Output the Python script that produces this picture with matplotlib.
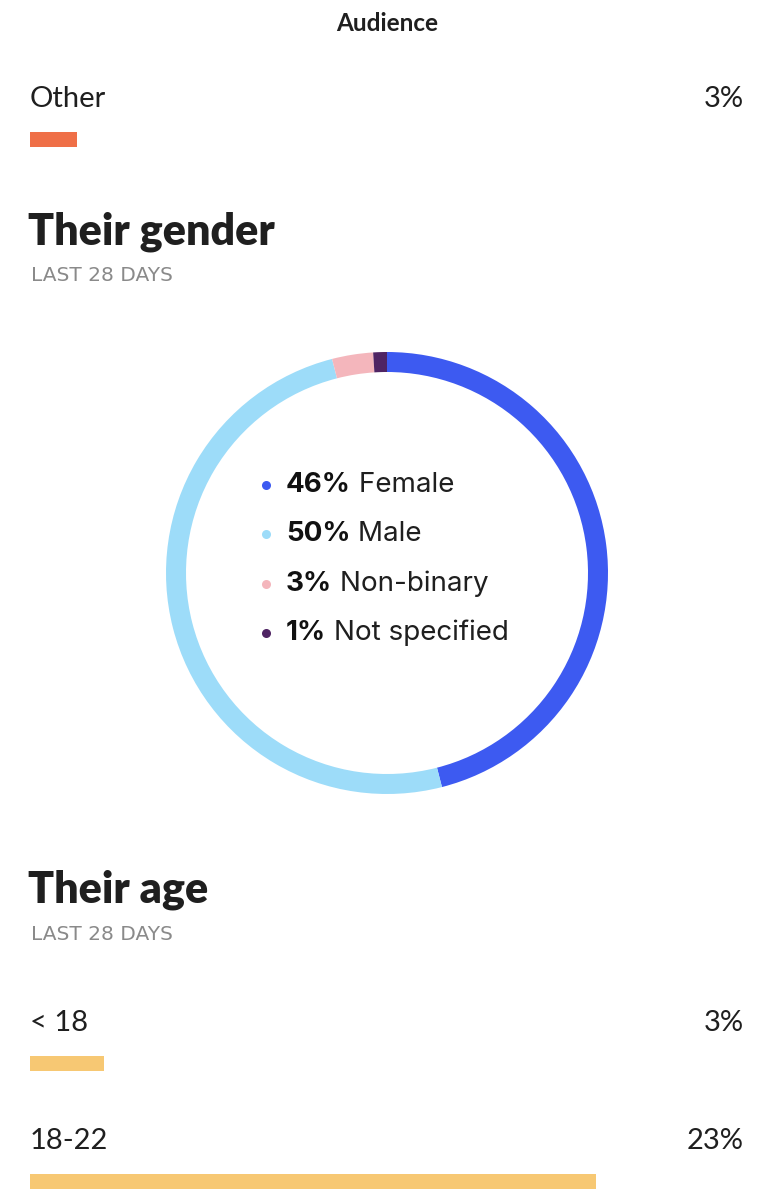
import matplotlib
matplotlib.use("Agg")
import matplotlib.pyplot as plt

plt.rcParams['font.family'] = ['Lato', 'DejaVu Sans']

# location section (only the last row is visible)
location_labels = ["Other"]
location_values = [3]
location_max = 45.5

# gender
gender_labels = ["Female", "Male", "Non-binary", "Not specified"]
gender_values = [46, 50, 3, 1]
gender_colors = ["#3d5af1", "#9ddcf9", "#f4b6bc", "#4f2463"]

# age (first two groups visible)
age_labels = ["< 18", "18-22"]
age_values = [3, 23]
age_max = 29

W, H = 774, 1200
fig = plt.figure(figsize=(W / 100, H / 100), dpi=100)
fig.patch.set_facecolor("white")

ax = fig.add_axes([0, 0, 1, 1])
ax.set_xlim(0, W)
ax.set_ylim(H, 0)
ax.axis("off")

DARK = "#1f1f1f"
GREY = "#8a8a8a"


def px_axes(left, top, right, bottom):
    return fig.add_axes([left / W, 1 - bottom / H, (right - left) / W, (bottom - top) / H])


def bar_rows(labels, values, vmax, color, first_base, step, bar_top):
    # bar axes spans full content width; rows are step px apart
    n = len(labels)
    top = bar_top + 7.5 - step / 2
    bax = px_axes(30, top, 744, top + step * n)
    bax.set_xlim(0, vmax)
    bax.set_ylim(n - 0.5, -0.5)
    bax.barh(range(n), values, height=15 / step, color=color, left=0)
    bax.axis("off")
    for i, (lab, val) in enumerate(zip(labels, values)):
        y = first_base + i * step
        ax.text(30, y, lab, fontsize=21, color=DARK, va="baseline", ha="left")
        ax.text(744, y, f"{val}%", fontsize=21, color=DARK, va="baseline", ha="right")


def subtitle(y):
    ax.text(31, y, "LAST 28 DAYS", fontsize=14.5, color=GREY, va="baseline", ha="left",
            family=["DejaVu Sans"])


ax.text(387, 31, "Audience", fontsize=17.5, fontweight="bold", color=DARK,
        ha="center", va="baseline")

bar_rows(location_labels, location_values, location_max, "#ef6f47", 107, 118, 132)

# gender section
ax.text(28, 245, "Their gender", fontsize=31, fontweight="heavy", color=DARK,
        va="baseline", ha="left")
subtitle(281)

cx, cy, r = 387, 573, 221
pax = px_axes(cx - r, cy - r, cx + r, cy + r)
pax.pie(gender_values, colors=gender_colors, startangle=90, counterclock=False,
        radius=1, wedgeprops=dict(width=20 / r, linewidth=0))
pax.set_xlim(-1, 1)
pax.set_ylim(-1, 1)
pax.set_aspect("equal")

for i, (lab, val, col) in enumerate(zip(gender_labels, gender_values, gender_colors)):
    base = 492 + i * 49.3
    ax.plot(266, base - 7, "o", ms=6.5, color=col, mec="none")
    t = ax.text(286, base, f"{val}%", fontsize=20, fontweight="bold", color="#111111",
                va="baseline", ha="left", family=["Inter", "DejaVu Sans"])
    ax.annotate(" " + lab, xy=(1, 0), xycoords=t, fontsize=20, color=DARK,
                va="bottom", ha="left", family=["Inter", "DejaVu Sans"])

# age section
ax.text(28, 902, "Their age", fontsize=31, fontweight="heavy", color=DARK,
        va="baseline", ha="left")
subtitle(940)

bar_rows(age_labels, age_values, age_max, "#f7c873", 1031, 118, 1056)

fig.savefig("out.png", dpi=100, facecolor="white")
